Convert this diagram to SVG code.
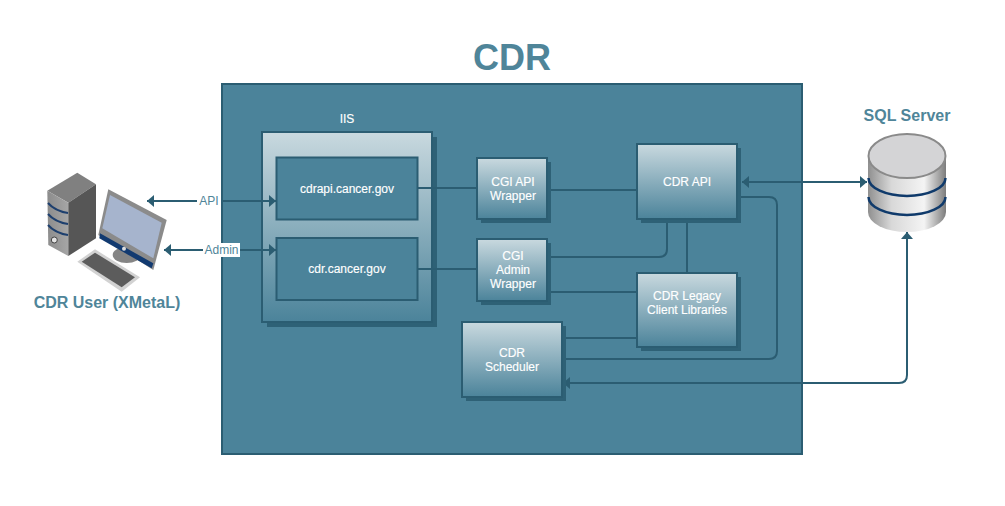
<svg xmlns="http://www.w3.org/2000/svg" width="1005" height="506" viewBox="0 0 1005 506">
<style>
text{font-family:"Liberation Sans",Arial,sans-serif;text-anchor:middle}
.t{font-size:12px;fill:#fff;stroke:#fff;stroke-width:.15}
.h{font-weight:bold;fill:#4f8599}
.b{fill:url(#g);stroke:#2b5d72;stroke-width:2}
.s{fill:#2e6176}
.f{fill:#4b839a;stroke:#2b5d72;stroke-width:2}
.c{fill:none;stroke:#2b5d72;stroke-width:2}
</style>
<defs>
<linearGradient id="g" x1="0" y1="0" x2="0" y2="1"><stop offset="0" stop-color="#c9d9df"/><stop offset="1" stop-color="#4b839a"/></linearGradient>
<linearGradient id="cy" x1="0" y1="0" x2="1" y2="0"><stop offset="0" stop-color="#8f8f8f"/><stop offset=".3" stop-color="#d8d8d8"/><stop offset=".72" stop-color="#f4f4f4"/><stop offset="1" stop-color="#7c7c7c"/></linearGradient>
<linearGradient id="tw" x1="0" y1="0" x2="1" y2="0"><stop offset="0" stop-color="#8c8c8c"/><stop offset="1" stop-color="#a6a6a6"/></linearGradient>
<marker id="a" markerWidth="8" markerHeight="12" refX="7" refY="6" orient="auto-start-reverse" markerUnits="userSpaceOnUse"><path d="M0 0L7 6L0 12Z" fill="#2b5d72"/></marker>
</defs>
<rect width="1005" height="506" fill="#fff"/>
<text class="h" x="512" y="70" font-size="36">CDR</text>
<g id="cdr-container"><rect x="222" y="84" width="580" height="370" class="f"/></g>
<g id="iis">
<text class="t" x="347" y="123">IIS</text>
<rect x="267" y="137" width="170" height="190" class="s"/>
<rect x="262" y="132" width="170" height="190" class="b"/>
</g>
<g id="connectors">
<path class="c" d="M417 188H477M547 190H637M417 269H477M551 257H659Q667 257 667 249V219M687 219V273M547 292H637M562 338H637M562 359H769Q777 359 777 351V205Q777 197 769 197H737"/>
<path class="c" d="M742 182H867" marker-start="url(#a)" marker-end="url(#a)"/>
<path class="c" d="M563 383H899Q907 383 907 375V232" marker-start="url(#a)" marker-end="url(#a)"/>
<path class="c" d="M147 201H276" marker-start="url(#a)" marker-end="url(#a)"/>
<path class="c" d="M164 250H276" marker-start="url(#a)" marker-end="url(#a)"/>
<g>
<rect x="197" y="194" width="24" height="14" fill="#fff"/><text x="209" y="205" font-size="12" fill="#4f8599">API</text>
<rect x="203" y="243" width="37" height="14" fill="#fff"/><text x="221.500" y="254" font-size="12" fill="#4f8599">Admin</text>
</g>
</g>
<g id="cdrapi"><rect x="276.500" y="157.500" width="141" height="62" class="f"/><text class="t" x="347" y="193">cdrapi.cancer.gov</text></g>
<g id="cdr-site"><rect x="276.500" y="238" width="141" height="62" class="f"/><text class="t" x="347" y="273">cdr.cancer.gov</text></g>
<g id="cgi-api"><rect x="481" y="162" width="70" height="61" class="s"/><rect x="477" y="158" width="70" height="61" class="b"/><text class="t" x="513" y="186">CGI API<tspan x="513" dy="14">Wrapper</tspan></text></g>
<g id="cgi-admin"><rect x="481" y="243" width="70" height="62" class="s"/><rect x="477" y="239" width="70" height="62" class="b"/><text class="t" x="513" y="260">CGI<tspan x="513" dy="14">Admin</tspan><tspan x="513" dy="14">Wrapper</tspan></text></g>
<g id="cdr-api"><rect x="641" y="148" width="100" height="75" class="s"/><rect x="637" y="144" width="100" height="75" class="b"/><text class="t" x="687" y="186">CDR API</text></g>
<g id="legacy"><rect x="641" y="277" width="100" height="74" class="s"/><rect x="637" y="273" width="100" height="74" class="b"/><text class="t" x="687" y="300">CDR Legacy<tspan x="687" dy="14">Client Libraries</tspan></text></g>
<g id="scheduler"><rect x="466" y="326" width="100" height="75" class="s"/><rect x="462" y="322" width="100" height="75" class="b"/><text class="t" x="512" y="357">CDR<tspan x="512" dy="14">Scheduler</tspan></text></g>
<g id="sql-server">
<text class="h" x="907" y="121" font-size="16">SQL Server</text>
<path d="M868 156V212A39 20 0 0 0 946 212V156Z" fill="url(#cy)"/>
<path d="M868.500 178A38.500 18 0 0 0 945.500 178M868.500 197A38.500 18 0 0 0 945.500 197" fill="none" stroke="#0f3a6b" stroke-width="2.500"/>
<ellipse cx="907" cy="156" rx="38.500" ry="22" fill="#d4d4d6" stroke="#8a8a8a" stroke-width="2"/>
</g>
<g id="user">
<path d="M47.300 190.700L77.300 172.700L96 184.300L68.300 202.700Z" fill="#808080"/>
<path d="M47.300 190.700L68.300 202.700V256L48.300 245Z" fill="url(#tw)"/>
<path d="M68.300 202.700L96 184.300V238.300L68.300 256Z" fill="#565656"/>
<path d="M48 203Q55 211 68 213M48 214Q55 222 68 224M48 225Q55 233 68 235" fill="none" stroke="#1d3f6e" stroke-width="2"/>
<circle cx="54.300" cy="240" r="3" fill="#e4e4e4" stroke="#444"/>
<ellipse cx="126.700" cy="255" rx="14" ry="8" fill="#858585"/>
<path d="M108.300 189.300L166.700 220L153.300 270L98.300 235Z" fill="#8b8b8b"/>
<path d="M110 195L161.700 222.700L153.300 258.300L102.300 228.300Z" fill="#a6b4cd"/>
<path d="M100 233.300L153.300 263.300L151.700 268.300L99.300 238.300Z" fill="#123a70"/>
<circle cx="124" cy="248.700" r="2" fill="#ddd"/>
<path d="M77.300 261.700L95 249.300L140 277.300L121.700 291.700Z" fill="#d2d2d2"/>
<path d="M81.700 261.700L95 252.700L135 277.300L121.700 287.300Z" fill="#5c5c5c"/>
<text class="h" x="107" y="308" font-size="16">CDR User (XMetaL)</text>
</g>
</svg>
